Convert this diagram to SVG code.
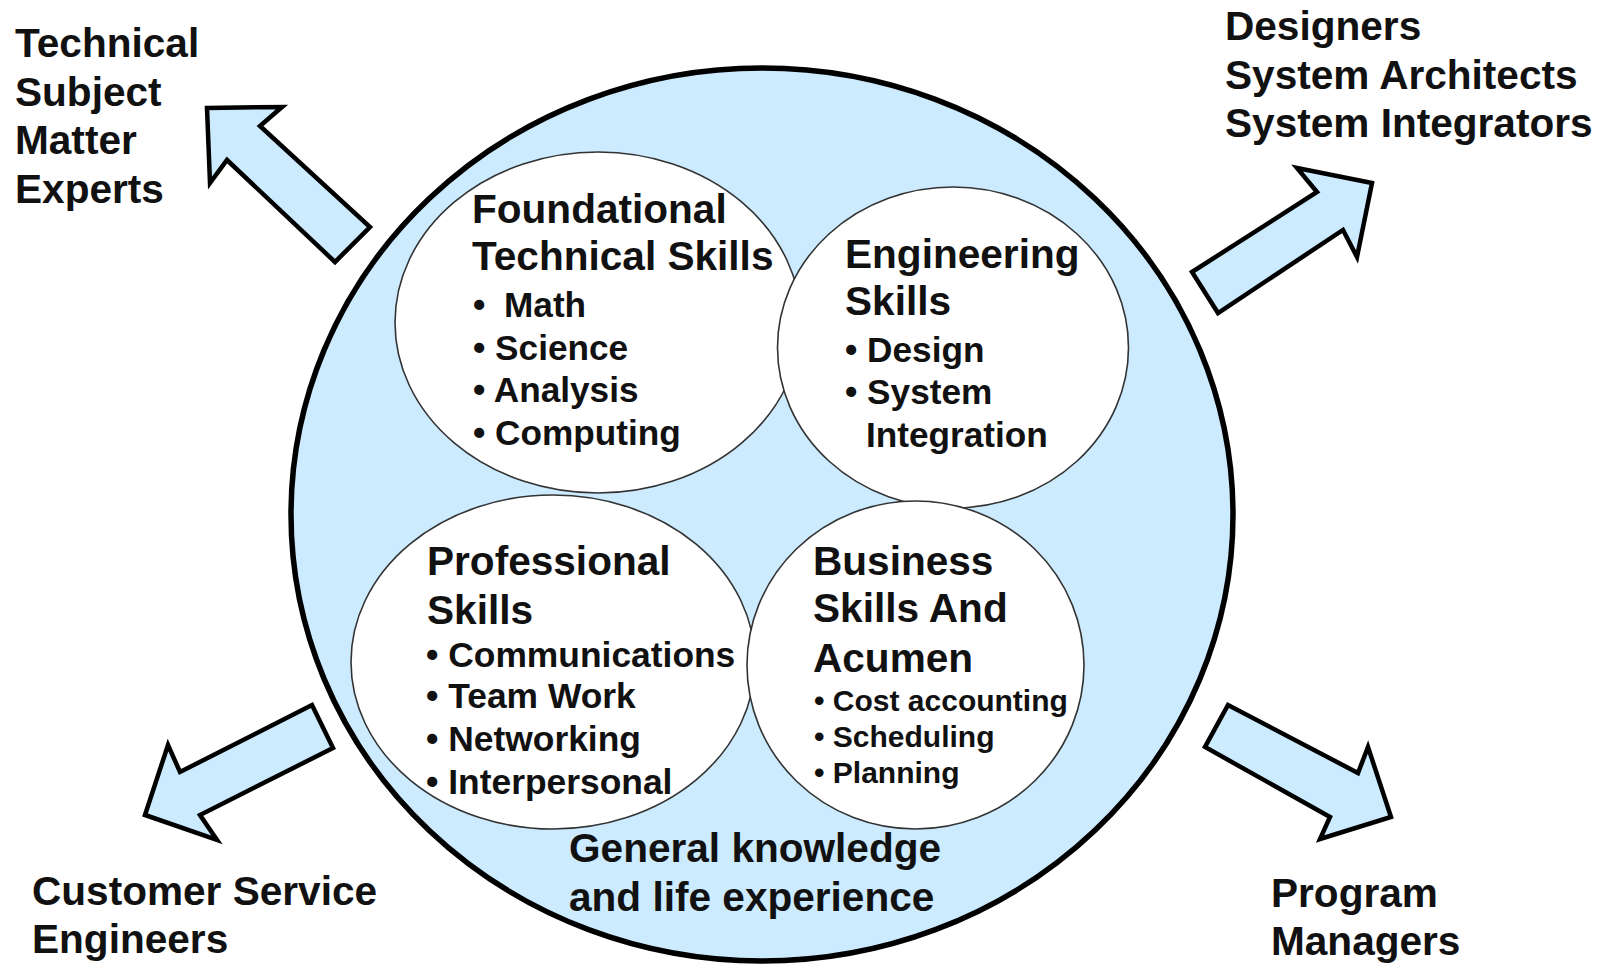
<svg xmlns="http://www.w3.org/2000/svg" width="1604" height="968" viewBox="0 0 1604 968">
<style>
.t{font-family:"Liberation Sans",Arial,sans-serif;font-weight:bold;fill:#111;}
.h{font-size:40.6px;}
.b34{font-size:35.2px;}
.b35{font-size:35.4px;}
.b30{font-size:30px;}
.skill{fill:#fff;stroke:#333;stroke-width:1.6;}
.arrow{fill:#CCEBFF;stroke:#000;stroke-width:4.5;stroke-linejoin:miter;}
</style>
<rect width="1604" height="968" fill="#fff"/>
<g id="connectors">
<polygon class="arrow" points="207,108 282,107 260,126 370,227 335,262 227,160 210,183"/>
<polygon class="arrow" points="1372,183 1297,168 1317,192 1192,272 1218,313 1343,230 1357,257"/>
<polygon class="arrow" points="145,815 168,745 180,772 312,705 333,748 200,815 217,840"/>
<polygon class="arrow" points="1391,817 1368,747 1358,773 1228,705 1205,747 1330,817 1320,839"/>
</g>
<g id="general-knowledge">
<ellipse cx="762" cy="514.5" rx="471" ry="446.5" fill="#CCEBFF" stroke="#000" stroke-width="5.5"/>
<text class="t h" x="569" y="862">General knowledge</text>
<text class="t h" x="569" y="911">and life experience</text>
</g>
<g id="foundational">
<ellipse class="skill" cx="598" cy="322.5" rx="203" ry="170.5"/>
<text class="t h" x="472" y="223">Foundational</text>
<text class="t h" x="472" y="270">Technical Skills</text>
<text class="t b34" x="473" y="317">•<tspan x="504">Math</tspan></text>
<text class="t b34" x="473" y="360">• Science</text>
<text class="t b34" x="473" y="402">• Analysis</text>
<text class="t b34" x="473" y="445">• Computing</text>
</g>
<g id="engineering">
<ellipse class="skill" cx="953" cy="347.5" rx="175.5" ry="160.5"/>
<text class="t h" x="845" y="268">Engineering</text>
<text class="t h" x="845" y="315">Skills</text>
<text class="t b34" x="845" y="362">• Design</text>
<text class="t b34" x="845" y="404">• System</text>
<text class="t b34" x="866" y="447">Integration</text>
</g>
<g id="professional">
<ellipse class="skill" cx="553" cy="662" rx="202" ry="167"/>
<text class="t h" x="427" y="575">Professional</text>
<text class="t h" x="427" y="624">Skills</text>
<text class="t b35" x="426" y="667">• Communications</text>
<text class="t b35" x="426" y="708">• Team Work</text>
<text class="t b35" x="426" y="751">• Networking</text>
<text class="t b35" x="426" y="794">• Interpersonal</text>
</g>
<g id="business">
<ellipse class="skill" cx="915.5" cy="665" rx="168.5" ry="164"/>
<text class="t h" x="813" y="575">Business</text>
<text class="t h" x="813" y="622">Skills And</text>
<text class="t h" x="813" y="672">Acumen</text>
<text class="t b30" x="814" y="711">• Cost accounting</text>
<text class="t b30" x="814" y="747">• Scheduling</text>
<text class="t b30" x="814" y="783">• Planning</text>
</g>
<g id="technical-sme">
<text class="t h" x="15" y="57">Technical</text>
<text class="t h" x="15" y="106">Subject</text>
<text class="t h" x="15" y="154">Matter</text>
<text class="t h" x="15" y="203">Experts</text>
</g>
<g id="designers">
<text class="t h" x="1225" y="40">Designers</text>
<text class="t h" x="1225" y="89">System Architects</text>
<text class="t h" x="1225" y="137">System Integrators</text>
</g>
<g id="customer-service">
<text class="t h" x="32" y="905">Customer Service</text>
<text class="t h" x="32" y="953">Engineers</text>
</g>
<g id="program-managers">
<text class="t h" x="1271" y="907">Program</text>
<text class="t h" x="1271" y="955">Managers</text>
</g>
</svg>
